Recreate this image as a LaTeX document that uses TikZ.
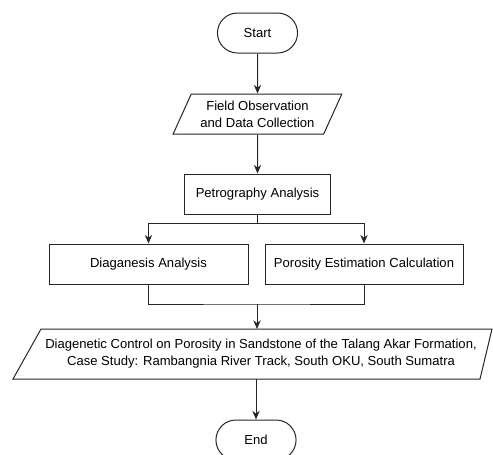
\documentclass[tikz,border=0pt]{standalone}
\usepackage{fontspec}
\setmainfont{Liberation Sans}
\usetikzlibrary{positioning,shapes.geometric,shapes.misc,arrows.meta}

\begin{document}
\begin{tikzpicture}[x=0.75pt,y=-0.75pt,line width=0.75pt,draw=black!85,
    font=\fontsize{9.8pt}{12.75pt}\selectfont,
    >={Stealth[length=6.5pt,width=5.5pt]},
    terminal/.style={rounded rectangle,draw,minimum width=66.75pt,minimum height=30pt},
    process/.style={rectangle,draw,minimum height=30pt},
    io/.style={trapezium,draw,trapezium stretches=true,minimum height=30pt}]
                \useasboundingbox (0,0) rectangle (493,454);
                \node[terminal] (start) at (257.5,33) {Start};
                \node[io,trapezium left angle=64.6,trapezium right angle=115.4,minimum width=126.75pt,align=center,below=30pt of start] (field) {Field Observation\\and Data Collection};
                \node[process,minimum width=109.5pt,below=29.25pt of field] (petro) {Petrography Analysis};
                \node[process,minimum width=149.25pt] (diag) at (148.5,264) {Diaganesis Analysis};
                \node[process,minimum width=148.5pt] (poros) at (364,264) {Porosity Estimation Calculation};
                % result box, slanted sides
                \coordinate (r1) at (41,329);
                \coordinate (r2) at (492,329);
                \coordinate (r3) at (480,379);
                \coordinate (r4) at (13,379);
                \draw (r1) -- (r2) -- (r3) -- (r4) -- cycle;
                \node[align=center] (res) at (261,354) {Diagenetic Control on Porosity in Sandstone of the Talang Akar Formation,\\Case Study: Rambangnia River Track, South OKU, South Sumatra};
                \node[terminal] (stop) at (256,440) {End};
                \coordinate (split) at (257.5,223);
                \coordinate (merge) at (257,304);
                \draw[->] (start) -- (field);
                \draw[->] (field) -- (petro);
                \draw (petro.south) -- (split);
                \draw[->] (split) -| (diag.north);
                \draw[->] (split) -| (poros.north);
                \draw (diag.south) |- (merge) -| (poros.south);
                \draw[->] (merge) -- (merge |- r1);
                \draw[->] (stop.north |- r4) -- (stop.north);
            \end{tikzpicture}
\end{document}
